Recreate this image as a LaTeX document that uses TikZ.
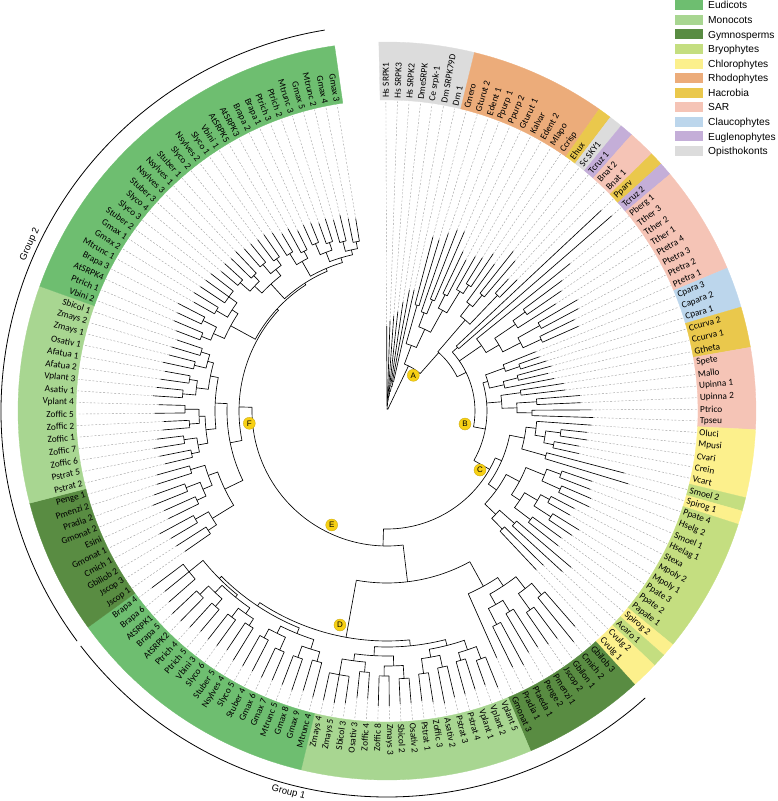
\documentclass[tikz,border=0pt]{standalone}
\usepackage{fontspec}
\setmainfont{Carlito}
\newfontfamily\lgfont{Liberation Sans}
\definecolor{ceud}{RGB}{110,190,112}
\definecolor{cmon}{RGB}{168,214,145}
\definecolor{cgym}{RGB}{89,140,66}
\definecolor{cbry}{RGB}{196,222,128}
\definecolor{cchl}{RGB}{252,240,140}
\definecolor{crho}{RGB}{236,172,122}
\definecolor{chac}{RGB}{234,200,76}
\definecolor{csar}{RGB}{245,196,182}
\definecolor{ccla}{RGB}{188,214,236}
\definecolor{ceug}{RGB}{196,174,216}
\definecolor{copi}{RGB}{220,220,220}
\definecolor{cyel}{RGB}{247,208,20}
\tikzset{
 br/.style={black,line width=0.65pt},
 dl/.style={black!38,line width=0.4pt,dash pattern=on 2pt off 1.7pt},
 lab/.style={font=\fontsize{9.3}{9.5}\selectfont,inner sep=0pt},
 leg/.style={font=\lgfont\fontsize{10.2}{11}\selectfont,inner sep=0pt},
 grp/.style={font=\lgfont\fontsize{9.5}{10}\selectfont,inner sep=0pt},
 lett/.style={circle,fill=cyel,draw=cyel!80!black,line width=0.3pt,inner sep=0pt,minimum size=12pt,font=\lgfont\fontsize{8}{8}\selectfont},
 garc/.style={black,line width=0.8pt}
}
\newcommand\tLeaf[3]{\pgfmathsetmacro\tA{90.2-2.14*(#1)}%
 \draw[br] (\tA:#2pt) -- (\tA:#3pt);\draw[dl] (\tA:#3pt) -- (\tA:310pt);}
\newcommand\tClade[5]{%
 \pgfmathsetmacro\tA{90.2-2.14*(#1)}\pgfmathsetmacro\tB{90.2-2.14*(#2)}%
 \draw[br] (\tA:#3pt) arc[start angle=\tA,end angle=\tB,radius=#3pt];%
 \foreach \k in {#1,...,#2}{\pgfmathsetmacro\tT{#4+#5*rnd}\tLeaf{\k}{#3}{\tT}}}
\newcommand\tJoin[5]{%
 \pgfmathsetmacro\tA{90.2-2.14*(#1)}\pgfmathsetmacro\tB{90.2-2.14*(#3)}%
 \draw[br] (\tA:#2pt) -- (\tA:#5pt) arc[start angle=\tA,end angle=\tB,radius=#5pt] -- (\tB:#4pt);}
\newcommand\tArc[3]{%
 \pgfmathsetmacro\tA{90.2-2.14*(#1)}\pgfmathsetmacro\tB{90.2-2.14*(#2)}%
 \draw[br] (\tA:#3pt) arc[start angle=\tA,end angle=\tB,radius=#3pt];}
\newcommand\tStem[3]{\pgfmathsetmacro\tA{90.2-2.14*(#1)}\draw[br] (\tA:#2pt) -- (\tA:#3pt);}
\newcommand\tBand[3]{%
 \pgfmathsetmacro\tA{90.2-2.14*(#1-0.5)}\pgfmathsetmacro\tB{90.2-2.14*(#2+0.5)}%
 \filldraw[fill=#3,draw=#3,line width=0.3pt] (\tA:311pt) arc[start angle=\tA,end angle=\tB,radius=311pt] -- (\tB:369pt) arc[start angle=\tB,end angle=\tA,radius=369pt] -- cycle;}
\begin{document}
\begin{tikzpicture}[x=1pt,y=1pt]
\useasboundingbox (-387pt,-390pt) rectangle (391pt,411pt);
\pgfmathsetseed{42}
% colour bands
\tBand{0}{6}{copi}\tBand{7}{16}{crho}\tBand{17}{17}{chac}\tBand{18}{18}{copi}
\tBand{19}{19}{ceug}\tBand{20}{21}{csar}\tBand{22}{22}{chac}\tBand{23}{23}{ceug}
\tBand{24}{31}{csar}\tBand{32}{34}{ccla}\tBand{35}{37}{chac}\tBand{38}{43}{csar}
\tBand{44}{48}{cchl}\tBand{49}{49}{cbry}\tBand{50}{50}{cchl}\tBand{51}{60}{cbry}
\tBand{61}{61}{cchl}\tBand{62}{62}{cbry}\tBand{63}{64}{cchl}\tBand{65}{73}{cgym}
\tBand{74}{90}{cmon}\tBand{91}{109}{ceud}\tBand{110}{119}{cgym}\tBand{120}{135}{cmon}
\tBand{136}{164}{ceud}
% group arcs
\draw[garc] (216.6:386pt) arc[start angle=216.6,end angle=99.3,radius=386pt];
\draw[garc] (-142.5:386pt) arc[start angle=-142.5,end angle=-48,radius=386pt];
\node[grp,rotate=65] (g2) at (155:394pt) {Group 2};
\node[grp,rotate=-14.5] (g1) at (-104.5:394pt) {Group 1};
% ---------- tree ----------
% Opisthokonts
\tClade{5}{6}{30}{120}{12}
\tJoin{4}{25}{5.5}{30}{25}\tLeaf{4}{25}{110}
\tJoin{3}{20}{4.75}{25}{20}\tLeaf{3}{20}{100}
\tJoin{2}{15}{3.875}{20}{15}\tLeaf{2}{15}{95}
\tJoin{1}{10}{2.94}{15}{10}\tLeaf{1}{10}{90}
\tJoin{0}{5}{1.97}{10}{5}\tLeaf{0}{5}{85}
\tJoin{0.98}{5}{12}{50}{2}
% A
\tArc{9.6}{19.5}{50}
% Rhodophytes
\tClade{15}{16}{150}{180}{10}
\tJoin{14}{140}{15.5}{150}{140}\tLeaf{14}{140}{178}
\tClade{12}{13}{130}{168}{15}
\tJoin{12.5}{130}{14.75}{140}{115}
\tClade{10}{11}{120}{180}{20}
\tJoin{9}{105}{10.5}{120}{105}\tLeaf{9}{105}{188}
\tJoin{9.75}{105}{13.625}{115}{90}
\tClade{7}{8}{110}{172}{10}
\tJoin{7.5}{110}{11.69}{90}{70}
\tStem{9.6}{50}{70}
% Ehux .. Bnat
\tClade{18}{19}{150}{190}{15}
\tJoin{17}{135}{18.5}{150}{135}\tLeaf{17}{135}{182}
\tClade{20}{21}{160}{178}{8}
\tJoin{17.75}{135}{20.5}{160}{120}
% B0
\tArc{19.1}{30}{78}\tStem{19.5}{50}{78}\tStem{19.1}{78}{120}
% Pparv, Tcruz 2
\tClade{22}{23}{95}{280}{22}
% SAR 1
\tClade{25}{26}{170}{210}{12}
\tJoin{25.5}{170}{27}{155}{155}\tLeaf{27}{155}{200}
\tClade{28}{29}{175}{215}{12}
\tClade{30}{31}{170}{205}{10}
\tJoin{28.5}{175}{30.5}{170}{150}
\tJoin{26.25}{155}{29.5}{150}{130}
\tJoin{24}{115}{27.875}{130}{115}\tLeaf{24}{115}{235}
% B1
\tArc{22.5}{47}{88}\tStem{30}{78}{88}\tStem{22.5}{88}{95}\tStem{25.94}{88}{115}\tStem{47}{88}{100}
% Claucophytes + Hacrobia
\tClade{33}{34}{140}{160}{8}
\tJoin{32}{125}{33.5}{140}{125}\tLeaf{32}{125}{160}
\tClade{35}{36}{135}{165}{10}
\tJoin{35.5}{135}{37}{120}{120}\tLeaf{37}{120}{170}
\tJoin{32.75}{125}{36.25}{120}{105}
% SAR 2
\tClade{38}{39}{135}{175}{10}
\tClade{40}{41}{150}{190}{10}
\tClade{42}{43}{145}{200}{10}
\tJoin{40.5}{150}{42.5}{145}{130}
\tJoin{38.5}{135}{41.5}{130}{115}
% B2
\tArc{34.5}{56}{100}\tStem{34.5}{100}{105}\tStem{40}{100}{115}\tStem{56}{100}{118}
% algae + bryophytes
\tClade{45}{46}{175}{200}{10}\tClade{47}{48}{170}{195}{10}
\tJoin{45.5}{175}{47.5}{170}{160}
\tJoin{44}{150}{46.5}{160}{150}\tLeaf{44}{150}{205}
\tClade{49}{50}{165}{245}{10}
\tJoin{45.25}{150}{49.5}{165}{140}
\tClade{51}{52}{185}{215}{10}\tClade{53}{54}{190}{215}{10}
\tJoin{51.5}{185}{53.5}{190}{170}
\tClade{55}{56}{185}{210}{10}\tClade{57}{58}{195}{220}{10}
\tJoin{55.5}{185}{57.5}{195}{175}
\tClade{59}{60}{180}{215}{10}
\tJoin{56.5}{175}{59.5}{180}{160}
\tJoin{52.5}{170}{58}{160}{150}
\tClade{61}{62}{170}{230}{15}\tClade{63}{64}{165}{215}{12}
\tJoin{61.5}{170}{63.5}{165}{150}
\tJoin{55.25}{150}{62.5}{150}{135}
\tJoin{47.375}{140}{58.875}{135}{125}
% C
\tArc{53.1}{85}{118}\tStem{53.1}{118}{125}\tStem{85}{118}{135}
% E
\tArc{81}{127}{135}\tStem{81}{135}{172}\tStem{127}{135}{148}
% Gymnosperms 1
\tClade{65}{66}{240}{285}{12}\tClade{67}{68}{245}{280}{10}
\tJoin{65.5}{240}{67.5}{245}{225}
\tClade{69}{70}{235}{275}{12}\tClade{71}{72}{240}{280}{10}
\tJoin{69.5}{235}{71.5}{240}{222}
\tJoin{66.5}{225}{70.5}{222}{210}
\tJoin{68.5}{210}{73}{200}{200}\tLeaf{73}{200}{270}
% G1
\tArc{70.75}{89}{172}\tStem{70.75}{172}{200}\tStem{89}{172}{230}
% Monocots 1
\tClade{74}{75}{265}{290}{8}\tClade{76}{77}{260}{290}{8}
\tJoin{74.5}{265}{76.5}{260}{252}
\tClade{78}{79}{262}{292}{6}\tClade{80}{81}{265}{290}{6}
\tJoin{78.5}{262}{80.5}{265}{250}
\tJoin{75.5}{252}{79.5}{250}{242}
\tClade{82}{83}{268}{292}{6}\tClade{84}{85}{265}{290}{6}
\tJoin{82.5}{268}{84.5}{265}{255}
\tClade{86}{87}{262}{288}{6}\tClade{88}{90}{268}{292}{6}
\tJoin{86.5}{262}{89}{268}{252}
\tJoin{83.5}{255}{87.75}{252}{245}
\tJoin{77.5}{242}{85.625}{245}{236}
% Eudicots 1
\tClade{91}{92}{260}{290}{8}\tClade{93}{94}{262}{288}{8}
\tJoin{91.5}{260}{93.5}{262}{250}
\tClade{95}{96}{262}{290}{8}\tClade{97}{98}{258}{285}{8}
\tJoin{95.5}{262}{97.5}{258}{248}
\tJoin{92.5}{250}{96.5}{248}{240}
\tClade{99}{100}{255}{285}{8}\tClade{101}{102}{258}{288}{8}
\tJoin{99.5}{255}{101.5}{258}{247}
\tClade{103}{104}{260}{285}{8}\tClade{105}{106}{262}{290}{8}
\tJoin{103.5}{260}{105.5}{262}{250}
\tJoin{100.5}{247}{104.5}{250}{240}
\tClade{107}{109}{255}{285}{10}
\tJoin{102.5}{240}{108}{255}{237}
\tJoin{94.5}{240}{105.25}{237}{234}
% D
\tArc{81.56}{99.9}{230}\tStem{81.56}{230}{236}\tStem{99.9}{230}{234}
% Gymnosperms 2
\tClade{110}{111}{215}{245}{10}\tClade{112}{113}{220}{250}{10}
\tJoin{110.5}{215}{112.5}{220}{205}
\tClade{114}{115}{210}{240}{10}\tClade{116}{117}{215}{245}{10}
\tJoin{114.5}{210}{116.5}{215}{200}
\tClade{118}{119}{205}{235}{10}
\tJoin{115.5}{200}{118.5}{205}{190}
\tJoin{111.5}{205}{117}{190}{180}
% Monocots 2
\tClade{120}{121}{200}{225}{8}\tClade{122}{123}{205}{228}{8}
\tJoin{120.5}{200}{122.5}{205}{192}
\tClade{124}{125}{198}{222}{8}\tClade{126}{127}{202}{226}{8}
\tJoin{124.5}{198}{126.5}{202}{188}
\tJoin{121.5}{192}{125.5}{188}{182}
\tClade{128}{129}{205}{230}{8}\tClade{130}{131}{200}{225}{8}
\tJoin{128.5}{205}{130.5}{200}{192}
\tClade{132}{133}{198}{222}{8}\tClade{134}{135}{195}{220}{8}
\tJoin{132.5}{198}{134.5}{195}{186}
\tJoin{129.5}{192}{133.5}{186}{180}
\tJoin{123.5}{182}{131.5}{180}{172}
\tJoin{114.25}{180}{127.5}{172}{160}
% Eudicots 2
\tClade{136}{137}{200}{225}{8}\tClade{138}{139}{205}{228}{8}
\tJoin{136.5}{200}{138.5}{205}{190}
\tClade{140}{141}{198}{220}{8}\tClade{142}{144}{195}{220}{8}
\tJoin{140.5}{198}{143}{195}{185}
\tJoin{137.5}{190}{141.75}{185}{178}
\tClade{145}{146}{195}{215}{8}\tClade{147}{148}{190}{212}{8}
\tJoin{145.5}{195}{147.5}{190}{182}
\tClade{149}{150}{192}{215}{8}\tClade{151}{152}{188}{210}{8}
\tJoin{149.5}{192}{151.5}{188}{180}
\tJoin{146.5}{182}{150.5}{180}{172}
\tClade{153}{154}{185}{205}{8}\tClade{155}{156}{180}{200}{8}
\tJoin{153.5}{185}{155.5}{180}{172}
\tClade{157}{158}{182}{202}{8}\tClade{159}{160}{178}{198}{8}
\tJoin{157.5}{182}{159.5}{178}{170}
\tClade{161}{162}{175}{195}{8}\tClade{163}{164}{172}{190}{8}
\tJoin{161.5}{175}{163.5}{172}{165}
\tJoin{158.5}{170}{162.5}{165}{160}
\tJoin{154.5}{172}{160.5}{160}{155}
\tJoin{148.5}{172}{157.5}{155}{152}
\tJoin{139.625}{178}{153}{152}{150}
% F
\tArc{120.9}{146.3}{148}\tStem{120.9}{148}{160}\tStem{146.3}{148}{150}
% ---------- leaf labels ----------
\foreach \nm [count=\i from 0] in {Hs SRPK1,Hs SRPK3,Hs SRPK2,DmeSRPK,Ce srpk-1,Dm SRPK79D,Dm 1,
 Cmero,Gturut 2,Edent 1,Ppurp 1,Ppurp 2,Gturut 1,Kalvar,Edent 2,Mlapo,Ccrisp,
 Ehux,Sc SKY1,Tcruz 1,Bnat 2,Bnat 1,Pparv,Tcruz 2,
 Pberg 1,Tther 3,Tther 2,Tther 1,Ptetra 4,Ptetra 3,Ptetra 2,Ptetra 1,
 Cpara 3,Capara 2,Cpara 1,Ccurva 2,Ccurva 1,Gtheta,
 Spete,Mallo,Upinna 1,Upinna 2,Ptrico,Tpseu,
 Oluci,Mpusi,Cvari,Crein,Vcart,Smoel 2,Spirog 1,
 Ppate 4,Hselg 2,Smoel 1,Hselag 1,Stexa,Mpoly 2,Mpoly 1,Ppate 3,Ppate 2,Papate 1,
 Spirog 2,Acaro 1,Cvulg 2,Cvulg 1,
 Gbilob 3,Cmich 2,Gbilon 1,Jscop 2,Pmenzi 1,Penge 2,Ptaeda 1,Pradia 1,Gmonat 3,
 Vplant 5,Vplant 2,Vplant 1,Pstrat 4,Pstrat 3,Asativ 2,Zoffic 3,Pstrat 1,Osativ 2,
 Sbicol 2,Zmays 3,Zoffic 8,Zoffic 4,Osativ 3,Sbicol 3,Zmays 5,Zmays 4,
 Mtrunc 4,Gmax 9,Gmax 8,Mtrunc 5,Gmax 7,Gmax 6,Stuber 4,Slyco 5,Nsylves 4,Stuber 5,
 Slyco 6,Vbini 3,Ptrich 5,Ptrich 4,AtSRPK2,Brapa 5,AtSRPK1,Brapa 6,Brapa 4,
 Jscop 1,Jscop 3,Gbiliob 2,Cmich 1,Gmonat 1,Esini,Gmonat 2,Pradia 2,Pmenzi 2,Penge 1,
 Pstrat 2,Pstrat 5,Zoffic 6,Zoffic 7,Zoffic 1,Zoffic 2,Zoffic 5,Vplant 4,Asativ 1,
 Vplant 3,Afatua 2,Afatua 1,Osativ 1,Zmays 1,Zmays 2,Sbicol 1,
 Vbini 2,Ptrich 1,AtSRPK4,Brapa 3,Mtrunc 1,Gmax 2,Gmax 1,Stuber 2,Slyco 3,Slyco 4,
 Stuber 3,Nsylves 3,Nsylves 1,Stuber 1,Slyco 2,Nsylves 2,Slyco 1,Vbini 1,AtSRPK5,
 AtSRPK3,Brapa 2,Brapa 1,Ptrich 3,Ptrich 2,Mtrunc 3,Gmax 5,Mtrunc 2,Gmax 4,Gmax 3}{
 \pgfmathsetmacro\ang{90.2-2.14*\i}
 \pgfmathtruncatemacro\flip{\ang<-90}
 \ifnum\flip=1
  \pgfmathsetmacro\rot{\ang+180}
  \node[lab,anchor=east,rotate=\rot] (l\i) at (\ang:313pt) {\nm};
 \else
  \node[lab,anchor=west,rotate=\ang] (l\i) at (\ang:313pt) {\nm};
 \fi
}
% ---------- node letters ----------
\node[lett] (nA) at (26.3pt,35.7pt) {A};
\node[lett] (nB) at (78pt,-13pt) {B};
\node[lett] (nC) at (93pt,-59pt) {C};
\node[lett] (nD) at (-47pt,-214pt) {D};
\node[lett] (nE) at (-55.3pt,-114pt) {E};
\node[lett] (nF) at (-137.7pt,-12.3pt) {F};
% ---------- legend ----------
\foreach \lcol/\lname [count=\k from 0] in {ceud/Eudicots,cmon/Monocots,cgym/Gymnosperms,cbry/Bryophytes,cchl/Chlorophytes,crho/Rhodophytes,chac/Hacrobia,csar/SAR,ccla/Claucophytes,ceug/Euglenophytes,copi/Opisthokonts}{
 \pgfmathsetmacro\ly{405.7-14.57*\k}
 \fill[\lcol] (288pt,\ly pt-5pt) rectangle (316pt,\ly pt+5pt);
 \node[leg,anchor=base west] (lg\k) at (321pt,\ly pt-3.6pt) {\lname};
}
\end{tikzpicture}
\end{document}
